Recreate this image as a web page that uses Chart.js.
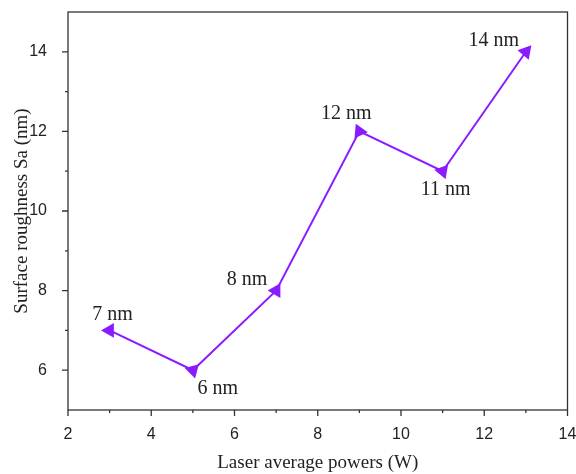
<!DOCTYPE html>
<html>
<head>
  <title>Surface roughness</title>
  <script src="https://cdn.jsdelivr.net/npm/chart.js"></script>
  <style>
    body { margin: 0; background: #fff; }
    #wrap { width: 576px; height: 474px; position: relative; }
  </style>
</head>
<body>
  <div id="wrap"><canvas id="roughChart"></canvas></div>

  <script>
    // laser power (W) vs surface roughness Sa (nm)
    const powers = [3, 5, 7, 9, 11, 13];
    const roughness = [7, 6, 8, 12, 11, 14];
    const pointLabels = ['7 nm', '6 nm', '8 nm', '12 nm', '11 nm', '14 nm'];
    const xTicks = [2, 4, 6, 8, 10, 12, 14];
    const yTicks = [6, 8, 10, 12, 14];

    // arrowhead direction for each marker and where its label sits
    const markerAngles = [-90, 165, 30, -25, 160, 40];
    const labelOffsets = [[3, -16], [25, 19], [-29, -11], [-13, -18], [3, 19], [-32, -11]];

    const purple = '#8a1cff';
    const axisColor = '#333';

    // frame, outward ticks and value labels
    const decorations = {
      id: 'decorations',
      afterDraw(chart) {
        const ctx = chart.ctx;
        const a = chart.chartArea;
        const xs = chart.scales.x, ys = chart.scales.y;
        ctx.save();
        ctx.strokeStyle = axisColor;
        ctx.lineWidth = 1.3;
        ctx.strokeRect(a.left, a.top, a.right - a.left, a.bottom - a.top);

        ctx.beginPath();
        for (let v = 2; v <= 14; v++) {
          const px = xs.getPixelForValue(v);
          const len = v % 2 === 0 ? 6 : 3;
          ctx.moveTo(px, a.bottom);
          ctx.lineTo(px, a.bottom + len);
        }
        for (let v = 6; v <= 14; v++) {
          const py = ys.getPixelForValue(v);
          const len = v % 2 === 0 ? 6 : 3;
          ctx.moveTo(a.left, py);
          ctx.lineTo(a.left - len, py);
        }
        ctx.stroke();

        ctx.fillStyle = '#222';
        ctx.font = '20px "Liberation Serif", "Times New Roman", serif';
        ctx.textAlign = 'center';
        ctx.textBaseline = 'middle';
        const meta = chart.getDatasetMeta(0);
        meta.data.forEach((pt, i) => {
          const off = labelOffsets[i];
          ctx.fillText(pointLabels[i], pt.x + off[0], pt.y + off[1]);
        });
        ctx.restore();
      }
    };

    new Chart(document.getElementById('roughChart'), {
      type: 'scatter',
      data: {
        datasets: [{
          data: powers.map((p, i) => ({ x: p, y: roughness[i] })),
          showLine: true,
          borderColor: purple,
          borderWidth: 2,
          backgroundColor: purple,
          pointStyle: 'triangle',
          pointRadius: 6.5,
          pointHoverRadius: 6.5,
          pointRotation: markerAngles
        }]
      },
      options: {
        responsive: true,
        maintainAspectRatio: false,
        animation: false,
        layout: { padding: { top: 12, right: 8 } },
        plugins: {
          legend: { display: false },
          tooltip: { enabled: false }
        },
        scales: {
          x: {
            type: 'linear',
            min: 2,
            max: 14,
            afterBuildTicks: s => { s.ticks = xTicks.map(v => ({ value: v })); },
            afterFit: s => { s.height = 64; s.paddingLeft = 0; s.paddingRight = 0; },
            grid: { display: false },
            border: { display: false },
            ticks: {
              padding: 7,
              color: '#222',
              font: { family: '"Liberation Sans", Arial, sans-serif', size: 16 }
            },
            title: {
              display: true,
              text: 'Laser average powers (W)',
              color: '#222',
              padding: { top: 4, bottom: 0 },
              font: { family: '"Liberation Serif", "Times New Roman", serif', size: 19 }
            }
          },
          y: {
            min: 5,
            max: 15,
            afterBuildTicks: s => { s.ticks = yTicks.map(v => ({ value: v })); },
            afterFit: s => { s.width = 68; s.paddingTop = 0; s.paddingBottom = 0; },
            grid: { display: false },
            border: { display: false },
            ticks: {
              padding: 13,
              color: '#222',
              font: { family: '"Liberation Sans", Arial, sans-serif', size: 16 }
            },
            title: {
              display: true,
              text: 'Surface roughness Sa (nm)',
              color: '#222',
              padding: { top: 11, bottom: 0 },
              font: { family: '"Liberation Serif", "Times New Roman", serif', size: 19 }
            }
          }
        }
      },
      plugins: [decorations]
    });
  </script>
</body>
</html>
